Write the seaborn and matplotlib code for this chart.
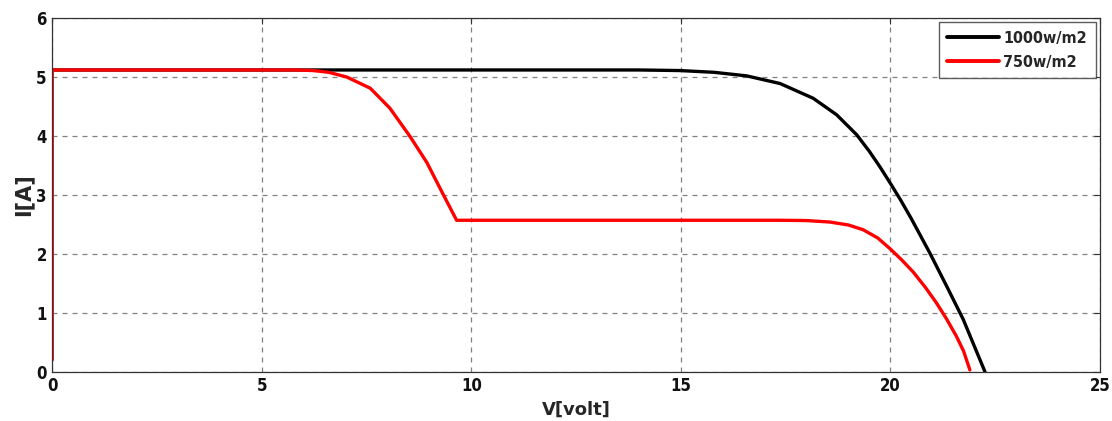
import matplotlib
matplotlib.use("Agg")
import matplotlib.pyplot as plt
import seaborn as sns
import pandas as pd

# I-V characteristic of a PV string at two irradiance levels
v_1000 = [0.0, 5.0, 10.0, 14.0, 14.98, 15.8, 16.57, 17.37, 18.16, 18.72, 19.2,
          19.5, 19.75, 20.0, 20.25, 20.5, 20.94, 21.34, 21.74, 22.26]
i_1000 = [5.12, 5.12, 5.12, 5.12, 5.11, 5.08, 5.02, 4.89, 4.64, 4.36, 4.02,
          3.74, 3.48, 3.2, 2.91, 2.6, 2.02, 1.46, 0.89, 0.0]

v_750 = [0.0, 0.0, 3.0, 5.8, 6.23, 6.6, 7.03, 7.59, 8.06, 8.54, 8.94, 9.3, 9.65,
         14.0, 17.37, 18.0, 18.56, 19.0, 19.35, 19.7, 19.99, 20.27, 20.55, 20.85,
         21.1, 21.34, 21.58, 21.75, 21.9]
i_750 = [0.2, 5.12, 5.12, 5.12, 5.11, 5.08, 5.0, 4.81, 4.47, 3.99, 3.55, 3.05, 2.57,
         2.57, 2.57, 2.565, 2.54, 2.49, 2.41, 2.27, 2.09, 1.9, 1.69, 1.42,
         1.17, 0.9, 0.6, 0.35, 0.03]

labels = ["1000w/m2", "750w/m2"]
colors = ["#000000", "#ff0000"]

df = pd.concat([
    pd.DataFrame({"V": v_1000, "I": i_1000, "series": labels[0]}),
    pd.DataFrame({"V": v_750, "I": i_750, "series": labels[1]}),
], ignore_index=True)

sns.set_theme(style="white")
plt.rcParams["font.family"] = ["DejaVu Sans"]

fig = plt.figure(figsize=(11.12, 4.21), dpi=100)
ax = fig.add_axes([0.047, 0.117, 0.942, 0.84])

sns.lineplot(data=df, x="V", y="I", hue="series", palette=dict(zip(labels, colors)),
             sort=False, estimator=None, linewidth=2.4, ax=ax)
for ln in ax.get_lines():
    ln.set_solid_joinstyle("round")
    ln.set_solid_capstyle("round")

ax.set_xlim(0, 25)
ax.set_ylim(0, 6)
ax.set_xticks([0, 5, 10, 15, 20, 25])
ax.set_yticks([0, 1, 2, 3, 4, 5, 6])
ax.grid(True, color="#808080", linestyle=(0, (4, 4)), linewidth=0.9)

for s in ax.spines.values():
    s.set_visible(True)
    s.set_color("#333333")
    s.set_linewidth(0.9)

ax.tick_params(direction="in", top=True, right=True, length=4, width=0.8,
               colors="#333333", labelcolor="#111111", pad=4)
for lab in ax.get_xticklabels() + ax.get_yticklabels():
    lab.set_fontsize(12)
    lab.set_fontweight("bold")
    lab.set_fontstretch("condensed")

ax.set_xlabel("V[volt]", fontsize=13, fontweight="bold", labelpad=4)
ax.set_ylabel("I[A]", fontsize=15, fontweight="bold", labelpad=2)

leg = ax.legend(loc="upper right", frameon=True, fancybox=False, fontsize=11.5,
                handlelength=3.2, handletextpad=0.3, borderpad=0.55,
                labelspacing=0.55, borderaxespad=0.25)
leg.get_frame().set_edgecolor("#333333")
leg.get_frame().set_linewidth(1.0)
for t in leg.get_texts():
    t.set_fontweight("bold")
    t.set_fontstretch("condensed")
for h in leg.get_lines():
    h.set_linewidth(2.8)

fig.savefig("out.png", dpi=100)
